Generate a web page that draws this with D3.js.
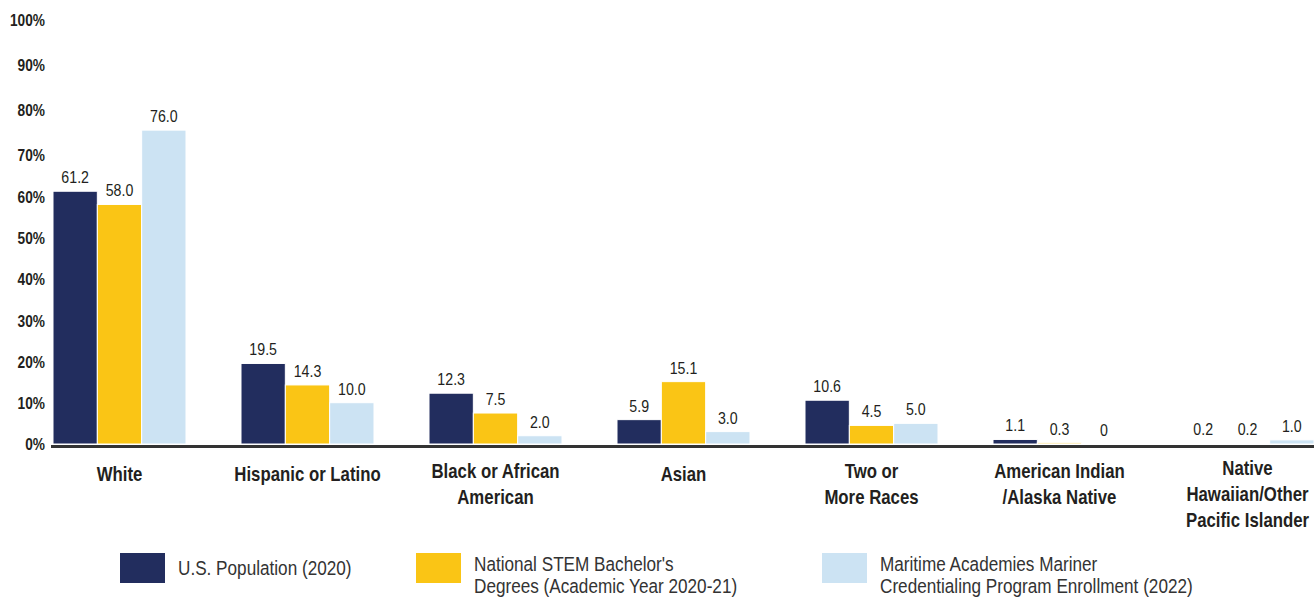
<!DOCTYPE html>
<html>
<head>
<meta charset="utf-8">
<script src="https://cdn.jsdelivr.net/npm/d3@7"></script>
<style>
  html, body { margin: 0; padding: 0; background: #fff; }
  svg { display: block; }
  text { font-family: "Liberation Sans", Arial, sans-serif; }
</style>
</head>
<body>
<svg id="chart" width="1315" height="598"></svg>
<script>
// Race / ethnicity categories
const categories = [
  "White",
  "Hispanic or Latino",
  "Black or African American",
  "Asian",
  "Two or More Races",
  "American Indian /Alaska Native",
  "Native Hawaiian/Other Pacific Islander"
];
// Wrapped category labels for the x axis
const categoryLines = [
  ["White"],
  ["Hispanic or Latino"],
  ["Black or African", "American"],
  ["Asian"],
  ["Two or", "More Races"],
  ["American Indian", "/Alaska Native"],
  ["Native", "Hawaiian/Other", "Pacific Islander"]
];

// Series (percent of each population)
const seriesNames = [
  "U.S. Population (2020)",
  "National STEM Bachelor's Degrees (Academic Year 2020-21)",
  "Maritime Academies Mariner Credentialing Program Enrollment (2022)"
];
const usPopulation   = [61.2, 19.5, 12.3, 5.9, 10.6, 1.1, 0.2];
const stemBachelors  = [58.0, 14.3, 7.5, 15.1, 4.5, 0.3, 0.2];
const maritimeEnroll = [76.0, 10.0, 2.0, 3.0, 5.0, 0, 1.0];
const legendLines = [
  ["U.S. Population (2020)"],
  ["National STEM Bachelor's", "Degrees (Academic Year 2020-21)"],
  ["Maritime Academies Mariner", "Credentialing Program Enrollment (2022)"]
];
const yTicks = [0, 10, 20, 30, 40, 50, 60, 70, 80, 90, 100];

const colors = ["#222d5e", "#fac515", "#cce3f3"];
const seriesValues = [usPopulation, stemBachelors, maritimeEnroll];

const svg = d3.select("#chart");
const textColor = "#231f20";
// Condensed look: regular sans squeezed horizontally
const squeeze = s => `scale(${s},1)`;
const fmtVal = v => (v === 0 ? "0" : d3.format(".1f")(v));

// Scales
const x0 = d3.scaleBand()
  .domain(categories)
  .range([53, 1314])
  .paddingInner(0.2926)
  .paddingOuter(0);

const x1 = d3.scaleBand()
  .domain(d3.range(seriesNames.length))
  .range([0, x0.bandwidth()])
  .padding(0);

const y = d3.scaleLinear().domain([0, 100]).range([444, 31]);
// Tick-label placement: follows the bar scale up to 70%, then spreads toward the top
const yLabel = d3.scaleLinear().domain([0, 70, 100]).range([y(0), y(70), 20]);

// Y axis labels
const yAxis = d3.axisLeft(yLabel)
  .tickValues(yTicks)
  .tickSize(0)
  .tickPadding(0)
  .tickFormat(d => d + "%");

const yG = svg.append("g")
  .attr("transform", "translate(45,0)")
  .call(yAxis);
yG.select(".domain").remove();
yG.attr("font-family", null).attr("font-size", null);
yG.selectAll("text")
  .attr("x", 0)
  .attr("dy", "0.36em")
  .attr("transform", squeeze(0.83))
  .style("font-size", "16.5px")
  .style("font-weight", "bold")
  .attr("fill", textColor);

// Bars
const rows = categories.map((c, i) => ({
  cat: c,
  vals: seriesValues.map((s, k) => ({ k, v: s[i] }))
}));

const groups = svg.append("g")
  .selectAll("g")
  .data(rows)
  .join("g")
  .attr("transform", d => `translate(${x0(d.cat)},0)`);

groups.selectAll("rect")
  .data(d => d.vals)
  .join("rect")
  .attr("x", d => x1(d.k))
  .attr("y", d => y(d.v))
  .attr("width", x1.bandwidth())
  .attr("height", d => y(0) - y(d.v))
  .attr("fill", d => colors[d.k])
  .attr("stroke", "#ffffff")
  .attr("stroke-width", 1);

groups.selectAll("g.val")
  .data(d => d.vals)
  .join("g")
  .attr("class", "val")
  .attr("transform", d => `translate(${x1(d.k) + x1.bandwidth() / 2},${y(d.v) - 8})`)
  .append("text")
  .attr("transform", squeeze(0.86))
  .attr("text-anchor", "middle")
  .style("font-size", "16.5px")
  .attr("fill", textColor)
  .text(d => fmtVal(d.v));

// Baseline
svg.append("line")
  .attr("x1", x0.range()[0] - 2)
  .attr("x2", x0(categories[categories.length - 1]) + x0.bandwidth())
  .attr("y1", y(0) + 2.5)
  .attr("y2", y(0) + 2.5)
  .attr("stroke", "#333333")
  .attr("stroke-width", 3);

// Category labels
const catG = svg.append("g");
categories.forEach((c, i) => {
  const lines = categoryLines[i];
  const startY = 481 - (lines.length - 1) * 3;
  const t = catG.append("g")
    .attr("transform", `translate(${x0(c) + x0.bandwidth() / 2},${startY})`)
    .append("text")
    .attr("transform", squeeze(0.84))
    .attr("text-anchor", "middle")
    .style("font-size", "20px")
    .style("font-weight", "bold")
    .attr("fill", textColor);
  lines.forEach((ln, j) => {
    t.append("tspan")
      .attr("x", 0)
      .attr("y", j * 26)
      .text(ln);
  });
});

// Legend
const legendPos = [120, 416, 822];
const legend = svg.append("g");
seriesNames.forEach((name, k) => {
  const g = legend.append("g").attr("transform", `translate(${legendPos[k]},553)`);
  g.append("rect")
    .attr("width", 45)
    .attr("height", 30)
    .attr("fill", colors[k]);
  const lines = legendLines[k];
  const t = g.append("g")
    .attr("transform", `translate(58,${lines.length === 1 ? 22 : 17.5})`)
    .append("text")
    .attr("transform", squeeze(0.88))
    .style("font-size", "19.5px")
    .attr("fill", "#333333");
  lines.forEach((ln, j) => {
    t.append("tspan")
      .attr("x", 0)
      .attr("y", j * 23)
      .text(ln);
  });
});
</script>
</body>
</html>
